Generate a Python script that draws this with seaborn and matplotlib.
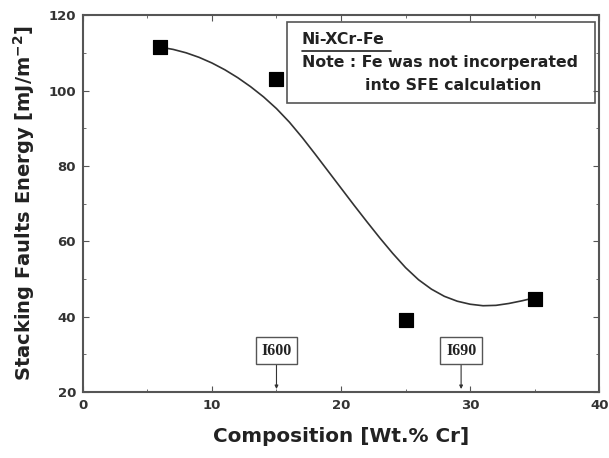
import numpy as np
import pandas as pd
import matplotlib.pyplot as plt
import seaborn as sns

# measured points
cr_pts = [6, 15, 25, 35]
sfe_pts = [111.5, 103, 39, 44.7]

# fitted curve
cr_fit = [6, 7, 8, 9, 10, 11, 12, 13, 14, 15, 16, 17, 18, 19, 20,
          21, 22, 23, 24, 25, 26, 27, 28, 29, 30, 31, 32, 33, 34, 35]
sfe_fit = [111.5, 110.9, 110.0, 108.8, 107.3, 105.5, 103.4, 101.0, 98.3, 95.2,
           91.6, 87.5, 83.1, 78.6, 74.1, 69.6, 65.2, 60.9, 56.8, 53.0,
           49.8, 47.3, 45.4, 44.1, 43.3, 42.9, 43.0, 43.5, 44.2, 45.0]

alloys = ['I600', 'I690']
alloy_cr = [15, 29.3]

pts = pd.DataFrame({'Cr': cr_pts, 'SFE': sfe_pts})
fit = pd.DataFrame({'Cr': cr_fit, 'SFE': sfe_fit})

sns.set_style('ticks')
fig = plt.figure(figsize=(6.09, 4.58), dpi=100)
ax = fig.add_axes([0.136, 0.144, 0.848, 0.823])

sns.lineplot(data=fit, x='Cr', y='SFE', color='#333333', linewidth=1.2, ax=ax)
sns.scatterplot(data=pts, x='Cr', y='SFE', marker='s', s=110, color='black',
                edgecolor='black', zorder=5, ax=ax)

ax.set_xlim(0, 40)
ax.set_ylim(20, 120)
ax.set_xticks([0, 10, 20, 30, 40])
ax.set_xticks([5, 15, 25, 35], minor=True)
ax.set_yticks([20, 40, 60, 80, 100, 120])
ax.set_yticks([30, 50, 70, 90, 110], minor=True)
ax.tick_params(which='both', direction='in', top=True, right=True, color='#555555')
ax.tick_params(which='major', length=4, labelsize=9.5, pad=5)
ax.tick_params(which='minor', length=2)
for lab in ax.get_xticklabels() + ax.get_yticklabels():
    lab.set_fontweight('bold')
    lab.set_color('#333333')
for sp in ax.spines.values():
    sp.set_linewidth(1.5)
    sp.set_color('#555555')

ax.set_xlabel('Composition [Wt.% Cr]', fontsize=14.4, fontweight='bold', labelpad=11,
              color='#222222')
ax.set_ylabel('Stacking Faults Energy [mJ/m$^{\\mathbf{-2}}$]', fontsize=14,
              fontweight='bold', labelpad=8, color='#222222')

# alloy markers
for name, xc in zip(alloys, alloy_cr):
    ax.annotate(name, xy=(xc, 20.8), xytext=(xc, 31),
                ha='center', va='center', fontsize=11.5, fontweight='bold',
                family='Liberation Serif', color='#222222',
                bbox=dict(boxstyle='square,pad=0.35', fc='white', ec='#555555', lw=1),
                arrowprops=dict(arrowstyle='-|>', color='#333333', lw=0.8,
                                mutation_scale=5, shrinkA=0, shrinkB=0))

# note box
ax.add_patch(plt.Rectangle((0.395, 0.767), 0.597, 0.214, transform=ax.transAxes,
                           fill=False, ec='#555555', lw=1.2, zorder=6))
ax.text(0.424, 0.934, 'Ni-XCr-Fe', transform=ax.transAxes, fontsize=11.3,
        fontweight='bold', va='center', ha='left', color='#222222')
ax.plot([0.424, 0.596], [0.905, 0.905], transform=ax.transAxes, color='#222222', lw=1.2)
ax.text(0.424, 0.874, 'Note : Fe was not incorperated', transform=ax.transAxes,
        fontsize=11.3, fontweight='bold', va='center', ha='left', color='#222222')
ax.text(0.546, 0.812, 'into SFE calculation', transform=ax.transAxes,
        fontsize=11.3, fontweight='bold', va='center', ha='left', color='#222222')

fig.savefig('out.png', dpi=100)
